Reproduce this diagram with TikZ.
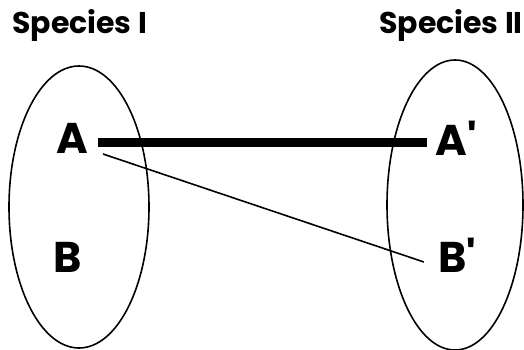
\documentclass[tikz,border=0pt]{standalone}
\usepackage{fontspec}
\setmainfont{Poppins}
\begin{document}
\begin{tikzpicture}[x=1pt,y=1pt,
  title/.style={font=\fontsize{30}{36}\selectfont\bfseries, anchor=base west, inner sep=0},
  letter/.style={font=\fontsize{43}{50}\selectfont\bfseries, inner sep=0, anchor=base},
  species/.style={draw, line width=1.6pt},
  strong/.style={line width=9pt},
  weak/.style={line width=1.6pt}]
\useasboundingbox (0,0) rectangle (524,349);
\draw[species] (79,142) ellipse [x radius=70, y radius=141];
\draw[species] (455,144) ellipse [x radius=68, y radius=145];
\node[title] (t1) at (12,316) {Species I};
\node[title] (t2) at (379,316) {Species II};
\node[letter] (A) at (72,196) {A};
\node[letter] (B) at (68,77) {B};
\node[letter] (Ap) at (456,194) {A\textquotesingle};
\node[letter] (Bp) at (457,77) {B\textquotesingle};
\draw[strong] ([xshift=10pt,yshift=11pt]A.base east) -- ([xshift=-8pt,yshift=13pt]Ap.base west);
\draw[weak] ([xshift=15pt,yshift=-1pt]A.base east) -- ([xshift=-14pt,yshift=10pt]Bp.base west);
\end{tikzpicture}
\end{document}
